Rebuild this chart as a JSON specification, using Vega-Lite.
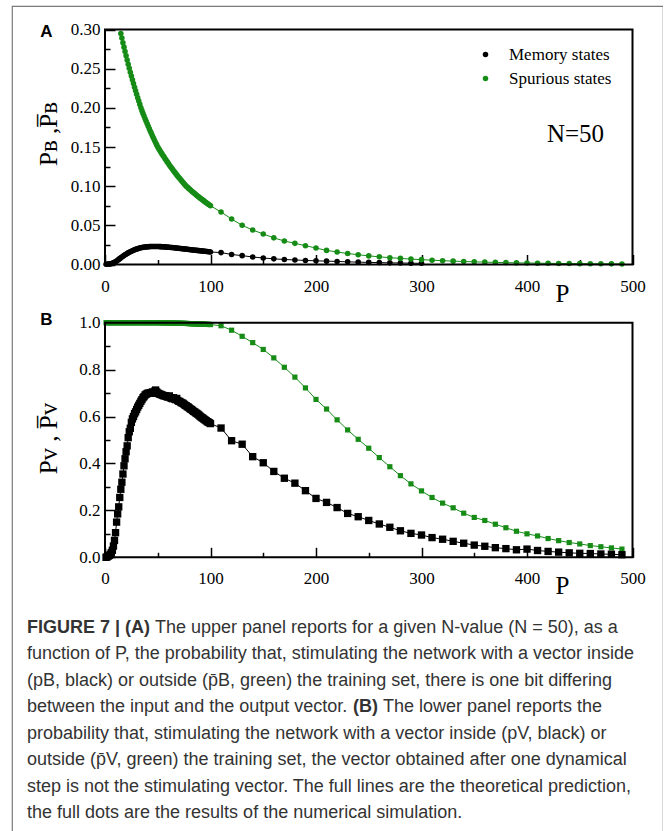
{
  "$schema": "https://vega.github.io/schema/vega-lite/v6.json",
  "width": 651,
  "height": 830,
  "autosize": {"type": "none"},
  "padding": {"left": 12, "top": 6, "right": 0, "bottom": 0},
  "background": "#ffffff",
  "config": {
    "view": {"stroke": "#7a7a7a", "strokeWidth": 1.2},
    "axis": {
      "labelFont": "Liberation Serif", "labelFontSize": 17, "labelColor": "#000000",
      "tickColor": "#000000", "tickWidth": 1.5, "domain": false, "grid": false,
      "titleFont": "Liberation Serif", "titleFontWeight": "normal", "titleColor": "#000000", "titleFontSize": 25,
      "labelOverlap": false, "labelBound": false, "labelFlush": false, "labelAngle": 0
    }
  },
  "datasets": {
    "pa": [
      {"P":1,"m":0.0003},{"P":2,"m":0.0004},{"P":3,"m":0.0005},{"P":4,"m":0.0006},{"P":5,"m":0.0008},{"P":6,"m":0.0011},{"P":7,"m":0.0015},{"P":8,"m":0.0021},{"P":9,"m":0.0028},{"P":10,"m":0.0036},{"P":11,"m":0.0045},{"P":12,"m":0.0055},{"P":13,"m":0.0065},{"P":14,"m":0.0075},
      {"P":15,"m":0.0085,"s":0.295},{"P":16,"m":0.0095,"s":0.289},{"P":17,"m":0.0105,"s":0.2832},{"P":18,"m":0.0114,"s":0.2775},{"P":19,"m":0.0123,"s":0.2719},{"P":20,"m":0.0132,"s":0.2664},{"P":21,"m":0.014,"s":0.261},{"P":22,"m":0.0148,"s":0.2557},{"P":23,"m":0.0156,"s":0.2506},{"P":24,"m":0.0163,"s":0.2455},{"P":25,"m":0.017,"s":0.2406},{"P":26,"m":0.0176,"s":0.2357},{"P":27,"m":0.0182,"s":0.231},{"P":28,"m":0.0188,"s":0.2263},{"P":29,"m":0.0193,"s":0.2217},{"P":30,"m":0.0198,"s":0.2173},{"P":31,"m":0.0202,"s":0.2129},{"P":32,"m":0.0206,"s":0.2086},{"P":33,"m":0.021,"s":0.2044},{"P":34,"m":0.0213,"s":0.2},{"P":35,"m":0.0216,"s":0.1964},{"P":36,"m":0.0219,"s":0.1929},{"P":37,"m":0.0221,"s":0.1895},{"P":38,"m":0.0223,"s":0.1861},{"P":39,"m":0.0225,"s":0.1828},{"P":40,"m":0.0226,"s":0.1796},{"P":41,"m":0.0227,"s":0.1764},{"P":42,"m":0.0228,"s":0.1732},{"P":43,"m":0.0229,"s":0.1701},{"P":44,"m":0.0229,"s":0.1671},{"P":45,"m":0.023,"s":0.1641},{"P":46,"m":0.023,"s":0.1612},{"P":47,"m":0.023,"s":0.1583},{"P":48,"m":0.023,"s":0.1555},{"P":49,"m":0.023,"s":0.1527},{"P":50,"m":0.0229,"s":0.15},
      {"P":51,"m":0.0229,"s":0.1478},{"P":52,"m":0.0228,"s":0.1456},{"P":53,"m":0.0228,"s":0.1434},{"P":54,"m":0.0227,"s":0.1412},{"P":55,"m":0.0226,"s":0.1391},{"P":56,"m":0.0225,"s":0.1371},{"P":57,"m":0.0224,"s":0.135},{"P":58,"m":0.0223,"s":0.133},{"P":59,"m":0.0222,"s":0.131},{"P":60,"m":0.0221,"s":0.1291},{"P":61,"m":0.022,"s":0.1271},{"P":62,"m":0.0218,"s":0.1252},{"P":63,"m":0.0217,"s":0.1234},{"P":64,"m":0.0216,"s":0.1215},{"P":65,"m":0.0214,"s":0.1197},{"P":66,"m":0.0213,"s":0.1179},{"P":67,"m":0.0211,"s":0.1162},{"P":68,"m":0.021,"s":0.1144},{"P":69,"m":0.0208,"s":0.1127},{"P":70,"m":0.0207,"s":0.1111},{"P":71,"m":0.0205,"s":0.1094},{"P":72,"m":0.0204,"s":0.1078},{"P":73,"m":0.0202,"s":0.1062},{"P":74,"m":0.02,"s":0.1046},{"P":75,"m":0.0199,"s":0.103},{"P":76,"m":0.0197,"s":0.1015},{"P":77,"m":0.0196,"s":0.1},{"P":78,"m":0.0194,"s":0.0988},{"P":79,"m":0.0192,"s":0.0975},{"P":80,"m":0.0191,"s":0.0963},{"P":81,"m":0.0189,"s":0.0951},{"P":82,"m":0.0188,"s":0.0939},{"P":83,"m":0.0186,"s":0.0928},{"P":84,"m":0.0185,"s":0.0916},{"P":85,"m":0.0183,"s":0.0905},{"P":86,"m":0.0181,"s":0.0893},{"P":87,"m":0.018,"s":0.0882},{"P":88,"m":0.0178,"s":0.0871},{"P":89,"m":0.0177,"s":0.0861},{"P":90,"m":0.0175,"s":0.085},{"P":91,"m":0.0174,"s":0.0839},{"P":92,"m":0.0172,"s":0.0829},{"P":93,"m":0.0171,"s":0.0819},{"P":94,"m":0.0169,"s":0.0809},{"P":95,"m":0.0168,"s":0.0799},{"P":96,"m":0.0166,"s":0.0789},{"P":97,"m":0.0165,"s":0.0779},{"P":98,"m":0.0163,"s":0.0769},{"P":99,"m":0.0162,"s":0.076},{"P":100,"m":0.016,"s":0.075},
      {"P":110,"m":0.0152,"s":0.067},{"P":120,"m":0.0128,"s":0.058},{"P":130,"m":0.0113,"s":0.05},{"P":140,"m":0.0096,"s":0.044},{"P":150,"m":0.0083,"s":0.039},{"P":160,"m":0.0072,"s":0.034},{"P":170,"m":0.0064,"s":0.03},{"P":180,"m":0.0058,"s":0.027},{"P":190,"m":0.0052,"s":0.024},{"P":200,"m":0.0047,"s":0.021},{"P":210,"m":0.0043,"s":0.018},{"P":220,"m":0.0039,"s":0.016},{"P":230,"m":0.0034,"s":0.014},{"P":240,"m":0.003,"s":0.0125},{"P":250,"m":0.0027,"s":0.011},{"P":260,"m":0.0024,"s":0.0098},{"P":270,"m":0.0021,"s":0.0087},{"P":280,"m":0.0019,"s":0.0078},{"P":290,"m":0.0017,"s":0.0069},{"P":300,"m":0.0015,"s":0.0062},
      {"P":310,"s":0.0055},{"P":320,"s":0.0049},{"P":330,"s":0.0043},{"P":340,"s":0.0038},{"P":350,"s":0.0034},{"P":360,"s":0.003},{"P":370,"s":0.0027},{"P":380,"s":0.0024},{"P":390,"s":0.0021},{"P":400,"s":0.0019},{"P":410,"s":0.0017},{"P":420,"s":0.0015},{"P":430,"s":0.0013},{"P":440,"s":0.0012},{"P":450,"s":0.0011},{"P":460,"s":0.001},{"P":470,"s":0.0009},{"P":480,"s":0.0008},{"P":490,"s":0.0007}
    ],
    "pb": [
      {"P":1,"m":0,"s":1},{"P":2,"m":0.002,"s":1},{"P":3,"m":0.005,"s":1},{"P":4,"m":0.008,"s":1},{"P":5,"m":0.013,"s":1},{"P":6,"m":0.02,"s":1},{"P":7,"m":0.03,"s":1},{"P":8,"m":0.048,"s":1},{"P":9,"m":0.072,"s":1},{"P":10,"m":0.105,"s":1},{"P":11,"m":0.15,"s":1},{"P":12,"m":0.185,"s":1},{"P":13,"m":0.215,"s":1},{"P":14,"m":0.255,"s":1},{"P":15,"m":0.29,"s":1},{"P":16,"m":0.32,"s":1},{"P":17,"m":0.355,"s":1},{"P":18,"m":0.39,"s":1},{"P":19,"m":0.42,"s":1},{"P":20,"m":0.45,"s":1},{"P":21,"m":0.475,"s":1},{"P":22,"m":0.51,"s":1},{"P":23,"m":0.535,"s":1},{"P":24,"m":0.55,"s":1},{"P":25,"m":0.575,"s":1},{"P":26,"m":0.59,"s":1},{"P":27,"m":0.6,"s":1},{"P":28,"m":0.612,"s":1},{"P":29,"m":0.62,"s":1},{"P":30,"m":0.63,"s":1},{"P":31,"m":0.64,"s":1},{"P":32,"m":0.648,"s":1},{"P":33,"m":0.656,"s":1},{"P":34,"m":0.665,"s":1},{"P":35,"m":0.672,"s":1},{"P":36,"m":0.68,"s":1},{"P":37,"m":0.685,"s":1},{"P":38,"m":0.692,"s":1},{"P":39,"m":0.695,"s":1},{"P":40,"m":0.698,"s":1},{"P":41,"m":0.7,"s":1},{"P":42,"m":0.699,"s":1},{"P":43,"m":0.702,"s":1},{"P":44,"m":0.699,"s":1},{"P":45,"m":0.705,"s":1},{"P":46,"m":0.7,"s":1},{"P":47,"m":0.708,"s":1},{"P":48,"m":0.713,"s":1},{"P":49,"m":0.705,"s":1},{"P":50,"m":0.7,"s":1},
      {"P":51,"m":0.698,"s":0.9998},{"P":52,"m":0.695,"s":0.9997},{"P":53,"m":0.694,"s":0.9996},{"P":54,"m":0.692,"s":0.9995},{"P":55,"m":0.69,"s":0.9994},{"P":56,"m":0.688,"s":0.9993},{"P":57,"m":0.689,"s":0.9992},{"P":58,"m":0.686,"s":0.9991},{"P":59,"m":0.684,"s":0.999},{"P":60,"m":0.683,"s":0.9989},{"P":61,"m":0.688,"s":0.9988},{"P":62,"m":0.68,"s":0.9987},{"P":63,"m":0.678,"s":0.9986},{"P":64,"m":0.676,"s":0.9985},{"P":65,"m":0.68,"s":0.9984},{"P":66,"m":0.675,"s":0.9983},{"P":67,"m":0.672,"s":0.9982},{"P":68,"m":0.677,"s":0.9981},{"P":69,"m":0.668,"s":0.998},{"P":70,"m":0.665,"s":0.9979},{"P":71,"m":0.664,"s":0.9977},{"P":72,"m":0.66,"s":0.9976},{"P":73,"m":0.658,"s":0.9974},{"P":74,"m":0.656,"s":0.9973},{"P":75,"m":0.652,"s":0.9971},{"P":76,"m":0.648,"s":0.997},{"P":77,"m":0.646,"s":0.9968},{"P":78,"m":0.642,"s":0.9966},{"P":79,"m":0.64,"s":0.9964},{"P":80,"m":0.636,"s":0.9962},{"P":81,"m":0.632,"s":0.996},{"P":82,"m":0.63,"s":0.9958},{"P":83,"m":0.626,"s":0.9956},{"P":84,"m":0.622,"s":0.9954},{"P":85,"m":0.62,"s":0.9952},{"P":86,"m":0.616,"s":0.995},{"P":87,"m":0.613,"s":0.9948},{"P":88,"m":0.61,"s":0.9946},{"P":89,"m":0.606,"s":0.9944},{"P":90,"m":0.602,"s":0.9942},{"P":91,"m":0.598,"s":0.994},{"P":92,"m":0.595,"s":0.9938},{"P":93,"m":0.592,"s":0.9936},{"P":94,"m":0.588,"s":0.9934},{"P":95,"m":0.585,"s":0.9932},{"P":96,"m":0.582,"s":0.993},{"P":97,"m":0.578,"s":0.9928},{"P":98,"m":0.576,"s":0.9926},{"P":99,"m":0.573,"s":0.9924},{"P":100,"m":0.57,"s":0.9922},
      {"P":110,"m":0.551,"s":0.987},{"P":120,"m":0.497,"s":0.968},{"P":130,"m":0.482,"s":0.942},{"P":140,"m":0.429,"s":0.915},{"P":150,"m":0.403,"s":0.886},{"P":160,"m":0.366,"s":0.85},{"P":170,"m":0.337,"s":0.81},{"P":180,"m":0.316,"s":0.768},{"P":190,"m":0.284,"s":0.722},{"P":200,"m":0.251,"s":0.673},{"P":210,"m":0.234,"s":0.632},{"P":220,"m":0.212,"s":0.586},{"P":230,"m":0.187,"s":0.543},{"P":240,"m":0.173,"s":0.503},{"P":250,"m":0.157,"s":0.465},{"P":260,"m":0.142,"s":0.425},{"P":270,"m":0.128,"s":0.386},{"P":280,"m":0.113,"s":0.348},{"P":290,"m":0.102,"s":0.313},{"P":300,"m":0.095,"s":0.283},{"P":310,"m":0.084,"s":0.255},{"P":320,"m":0.077,"s":0.231},{"P":330,"m":0.068,"s":0.211},{"P":340,"m":0.06,"s":0.188},{"P":350,"m":0.052,"s":0.17},{"P":360,"m":0.047,"s":0.157},{"P":370,"m":0.041,"s":0.141},{"P":380,"m":0.037,"s":0.126},{"P":390,"m":0.032,"s":0.111},{"P":400,"m":0.035,"s":0.1},{"P":410,"m":0.029,"s":0.091},{"P":420,"m":0.025,"s":0.08},{"P":430,"m":0.022,"s":0.071},{"P":440,"m":0.019,"s":0.063},{"P":450,"m":0.017,"s":0.057},{"P":460,"m":0.016,"s":0.05},{"P":470,"m":0.014,"s":0.045},{"P":480,"m":0.013,"s":0.04},{"P":490,"m":0.011,"s":0.035}
    ],
    "caption": [
      {"line":1,"part":"lead","text":"FIGURE 7 | (A)"},
      {"line":1,"part":"afterLead","text":"The upper panel reports for a given N-value (N = 50), as a"},
      {"line":2,"part":"body","text":"function of P, the probability that, stimulating the network with a vector inside"},
      {"line":3,"part":"body","text":"(pB, black) or outside (p\u0304B, green) the training set, there is one bit differing"},
      {"line":4,"part":"body","text":"between the input and the output vector."},
      {"line":4,"part":"midBold","text":"(B)"},
      {"line":4,"part":"afterMid","text":"The lower panel reports the"},
      {"line":5,"part":"body","text":"probability that, stimulating the network with a vector inside (pV, black) or"},
      {"line":6,"part":"body","text":"outside (p\u0304V, green) the training set, the vector obtained after one dynamical"},
      {"line":7,"part":"body","text":"step is not the stimulating vector. The full lines are the theoretical prediction,"},
      {"line":8,"part":"body","text":"the full dots are the results of the numerical simulation."}
    ]
  },
  "resolve": {
    "scale": {"x": "independent", "y": "independent"},
    "axis": {"x": "independent", "y": "independent"}
  },
  "layer": [
    {
      "data": {"name": "pa"},
      "layer": [
        {
          "transform": [{"fold": ["m", "s"], "as": ["key", "v"]}, {"filter": "isValid(datum.v) && datum.key === 'm'"}],
          "mark": {"type": "line", "color": "#000000", "strokeWidth": 1},
          "encoding": {
            "x": {
              "field": "P", "type": "quantitative",
              "scale": {"domain": [0, 500], "range": [93, 620.5], "nice": false, "zero": false},
              "axis": {
                "orient": "bottom", "offset": -571.5,
                "values": [0, 50, 100, 150, 200, 250, 300, 350, 400, 450, 500],
                "tickSize": {"condition": {"test": "datum.value % 100 === 0", "value": -10}, "value": -5},
                "labelExpr": "datum.value % 100 === 0 ? datum.label : ''",
                "labelBaseline": "middle", "labelPadding": 32,
                "title": "P", "titleX": 550, "titleY": 29, "titleBaseline": "middle", "titleAlign": "center", "titleAngle": 0
              }
            },
            "y": {
              "field": "v", "type": "quantitative",
              "scale": {"domain": [0, 0.3], "range": [258.5, 23.5], "nice": false, "zero": false},
              "axis": {
                "orient": "left", "offset": -93,
                "values": [0, 0.025, 0.05, 0.075, 0.1, 0.125, 0.15, 0.175, 0.2, 0.225, 0.25, 0.275, 0.3],
                "tickSize": {"condition": {"test": "abs(datum.value * 20 - round(datum.value * 20)) < 0.001", "value": -10}, "value": -5},
                "labelExpr": "abs(datum.value * 20 - round(datum.value * 20)) < 0.001 ? format(datum.value, '.2f') : ''",
                "labelPadding": 15,
                "title": "P\u0299 ,P\u0305\u0299", "titleX": -57, "titleY": 127.5, "titleAngle": -90, "titleAlign": "center", "titleBaseline": "middle"
              }
            }
          }
        },
        {
          "transform": [{"fold": ["m", "s"], "as": ["key", "v"]}, {"filter": "isValid(datum.v) && datum.key === 's'"}],
          "mark": {"type": "line", "color": "#168c16", "strokeWidth": 1},
          "encoding": {
            "x": {"field": "P", "type": "quantitative", "scale": {"domain": [0, 500], "range": [93, 620.5], "nice": false, "zero": false}},
            "y": {"field": "v", "type": "quantitative", "scale": {"domain": [0, 0.3], "range": [258.5, 23.5], "nice": false, "zero": false}}
          }
        },
        {
          "transform": [{"fold": ["m", "s"], "as": ["key", "v"]}, {"filter": "isValid(datum.v) && datum.key === 'm'"}],
          "mark": {"type": "circle", "size": 31, "opacity": 1},
          "encoding": {
            "x": {"field": "P", "type": "quantitative", "scale": {"domain": [0, 500], "range": [93, 620.5], "nice": false, "zero": false}},
            "y": {"field": "v", "type": "quantitative", "scale": {"domain": [0, 0.3], "range": [258.5, 23.5], "nice": false, "zero": false}},
            "color": {
              "field": "key", "type": "nominal",
              "scale": {"domain": ["m", "s"], "range": ["#000000", "#168c16"]},
              "legend": {
                "orient": "none", "legendX": 465, "legendY": 40, "title": null,
                "symbolType": "circle", "symbolSize": 30, "symbolStrokeWidth": 0,
                "labelFont": "Liberation Serif", "labelFontSize": 17, "labelColor": "#000000",
                "labelOffset": 15, "rowPadding": 6, "padding": 0,
                "labelExpr": "datum.label === 'm' ? 'Memory states' : 'Spurious states'"
              }
            }
          }
        },
        {
          "transform": [{"fold": ["m", "s"], "as": ["key", "v"]}, {"filter": "isValid(datum.v) && datum.key === 's'"}],
          "mark": {"type": "circle", "size": 31, "opacity": 1},
          "encoding": {
            "x": {"field": "P", "type": "quantitative", "scale": {"domain": [0, 500], "range": [93, 620.5], "nice": false, "zero": false}},
            "y": {"field": "v", "type": "quantitative", "scale": {"domain": [0, 0.3], "range": [258.5, 23.5], "nice": false, "zero": false}},
            "color": {"field": "key", "type": "nominal", "scale": {"domain": ["m", "s"], "range": ["#000000", "#168c16"]}}
          }
        },
        {
          "data": {"values": [{"box": "A"}]},
          "mark": {"type": "rect", "fillOpacity": 0, "stroke": "#000000", "strokeWidth": 2},
          "encoding": {
            "x": {"datum": 0, "type": "quantitative", "scale": {"domain": [0, 500], "range": [93, 620.5], "nice": false, "zero": false}},
            "x2": {"datum": 500},
            "y": {"datum": 0, "type": "quantitative", "scale": {"domain": [0, 0.3], "range": [258.5, 23.5], "nice": false, "zero": false}},
            "y2": {"datum": 0.3}
          }
        },
        {
          "data": {"values": [{"t": "N=50"}]},
          "mark": {"type": "text", "font": "Liberation Serif", "fontSize": 25, "color": "#000000"},
          "encoding": {
            "x": {"datum": 446, "type": "quantitative", "scale": {"domain": [0, 500], "range": [93, 620.5], "nice": false, "zero": false}},
            "y": {"datum": 0.167, "type": "quantitative", "scale": {"domain": [0, 0.3], "range": [258.5, 23.5], "nice": false, "zero": false}},
            "text": {"field": "t"}
          }
        },
        {
          "data": {"values": [{"t": "A"}]},
          "mark": {"type": "text", "font": "Liberation Sans", "fontWeight": "bold", "fontSize": 17, "color": "#000000"},
          "encoding": {
            "x": {"datum": -55.5, "type": "quantitative", "scale": {"domain": [0, 500], "range": [93, 620.5], "nice": false, "zero": false}},
            "y": {"datum": 0.2968, "type": "quantitative", "scale": {"domain": [0, 0.3], "range": [258.5, 23.5], "nice": false, "zero": false}},
            "text": {"field": "t"}
          }
        }
      ]
    },
    {
      "data": {"name": "pb"},
      "layer": [
        {
          "transform": [{"fold": ["m", "s"], "as": ["key", "v"]}, {"filter": "isValid(datum.v) && datum.key === 's'"}],
          "mark": {"type": "line", "color": "#168c16", "strokeWidth": 1},
          "encoding": {
            "x": {
              "field": "P", "type": "quantitative",
              "scale": {"domain": [0, 500], "range": [93, 620.5], "nice": false, "zero": false},
              "axis": {
                "orient": "bottom", "offset": -278.7,
                "values": [0, 50, 100, 150, 200, 250, 300, 350, 400, 450, 500],
                "tickSize": {"condition": {"test": "datum.value % 100 === 0", "value": -10}, "value": -5},
                "labelExpr": "datum.value % 100 === 0 ? datum.label : ''",
                "labelBaseline": "middle", "labelPadding": 31,
                "title": "P", "titleX": 550, "titleY": 28, "titleBaseline": "middle", "titleAlign": "center", "titleAngle": 0
              }
            },
            "y": {
              "field": "v", "type": "quantitative",
              "scale": {"domain": [0, 1], "range": [551.3, 316.7], "nice": false, "zero": false},
              "axis": {
                "orient": "left", "offset": -93,
                "values": [0, 0.1, 0.2, 0.3, 0.4, 0.5, 0.6, 0.7, 0.8, 0.9, 1],
                "tickSize": {"condition": {"test": "abs(datum.value * 5 - round(datum.value * 5)) < 0.001", "value": -10}, "value": -5},
                "labelExpr": "abs(datum.value * 5 - round(datum.value * 5)) < 0.001 ? format(datum.value, '.1f') : ''",
                "labelPadding": 15,
                "title": "P\u1d20 , P\u0305\u1d20", "titleX": -57, "titleY": 432, "titleAngle": -90, "titleAlign": "center", "titleBaseline": "middle"
              }
            }
          }
        },
        {
          "transform": [{"fold": ["m", "s"], "as": ["key", "v"]}, {"filter": "isValid(datum.v) && datum.key === 'm'"}],
          "mark": {"type": "line", "color": "#000000", "strokeWidth": 1},
          "encoding": {
            "x": {"field": "P", "type": "quantitative", "scale": {"domain": [0, 500], "range": [93, 620.5], "nice": false, "zero": false}},
            "y": {"field": "v", "type": "quantitative", "scale": {"domain": [0, 1], "range": [551.3, 316.7], "nice": false, "zero": false}}
          }
        },
        {
          "transform": [{"fold": ["m", "s"], "as": ["key", "v"]}, {"filter": "isValid(datum.v) && datum.key === 's'"}],
          "mark": {"type": "square", "size": 27, "filled": true, "opacity": 1, "color": "#168c16"},
          "encoding": {
            "x": {"field": "P", "type": "quantitative", "scale": {"domain": [0, 500], "range": [93, 620.5], "nice": false, "zero": false}},
            "y": {"field": "v", "type": "quantitative", "scale": {"domain": [0, 1], "range": [551.3, 316.7], "nice": false, "zero": false}}
          }
        },
        {
          "transform": [{"fold": ["m", "s"], "as": ["key", "v"]}, {"filter": "isValid(datum.v) && datum.key === 'm'"}],
          "mark": {"type": "square", "size": 54, "filled": true, "opacity": 1, "color": "#000000"},
          "encoding": {
            "x": {"field": "P", "type": "quantitative", "scale": {"domain": [0, 500], "range": [93, 620.5], "nice": false, "zero": false}},
            "y": {"field": "v", "type": "quantitative", "scale": {"domain": [0, 1], "range": [551.3, 316.7], "nice": false, "zero": false}}
          }
        },
        {
          "data": {"values": [{"box": "B"}]},
          "mark": {"type": "rect", "fillOpacity": 0, "stroke": "#000000", "strokeWidth": 2},
          "encoding": {
            "x": {"datum": 0, "type": "quantitative", "scale": {"domain": [0, 500], "range": [93, 620.5], "nice": false, "zero": false}},
            "x2": {"datum": 500},
            "y": {"datum": 0, "type": "quantitative", "scale": {"domain": [0, 1], "range": [551.3, 316.7], "nice": false, "zero": false}},
            "y2": {"datum": 1}
          }
        },
        {
          "data": {"values": [{"t": "B"}]},
          "mark": {"type": "text", "font": "Liberation Sans", "fontWeight": "bold", "fontSize": 17, "color": "#000000"},
          "encoding": {
            "x": {"datum": -55.5, "type": "quantitative", "scale": {"domain": [0, 500], "range": [93, 620.5], "nice": false, "zero": false}},
            "y": {"datum": 1.0115, "type": "quantitative", "scale": {"domain": [0, 1], "range": [551.3, 316.7], "nice": false, "zero": false}},
            "text": {"field": "t"}
          }
        }
      ]
    },
    {
      "data": {"name": "caption"},
      "encoding": {
        "y": {"field": "line", "type": "quantitative", "scale": {"domain": [1, 8], "range": [622, 807], "nice": false, "zero": false}, "axis": null},
        "text": {"field": "text"}
      },
      "layer": [
        {
          "transform": [{"filter": "datum.part === 'body'"}],
          "mark": {"type": "text", "align": "left", "baseline": "middle", "x": 15, "font": "Liberation Sans", "fontSize": 18, "color": "#333333"}
        },
        {
          "transform": [{"filter": "datum.part === 'lead'"}],
          "mark": {"type": "text", "align": "left", "baseline": "middle", "x": 15, "font": "Liberation Sans", "fontSize": 18, "fontWeight": "bold", "color": "#333333"}
        },
        {
          "transform": [{"filter": "datum.part === 'afterLead'"}],
          "mark": {"type": "text", "align": "left", "baseline": "middle", "x": 15, "dx": 128, "font": "Liberation Sans", "fontSize": 18, "color": "#333333"}
        },
        {
          "transform": [{"filter": "datum.part === 'midBold'"}],
          "mark": {"type": "text", "align": "left", "baseline": "middle", "x": 15, "dx": 326, "font": "Liberation Sans", "fontSize": 18, "fontWeight": "bold", "color": "#333333"}
        },
        {
          "transform": [{"filter": "datum.part === 'afterMid'"}],
          "mark": {"type": "text", "align": "left", "baseline": "middle", "x": 15, "dx": 356, "font": "Liberation Sans", "fontSize": 18, "color": "#333333"}
        }
      ]
    }
  ]
}
